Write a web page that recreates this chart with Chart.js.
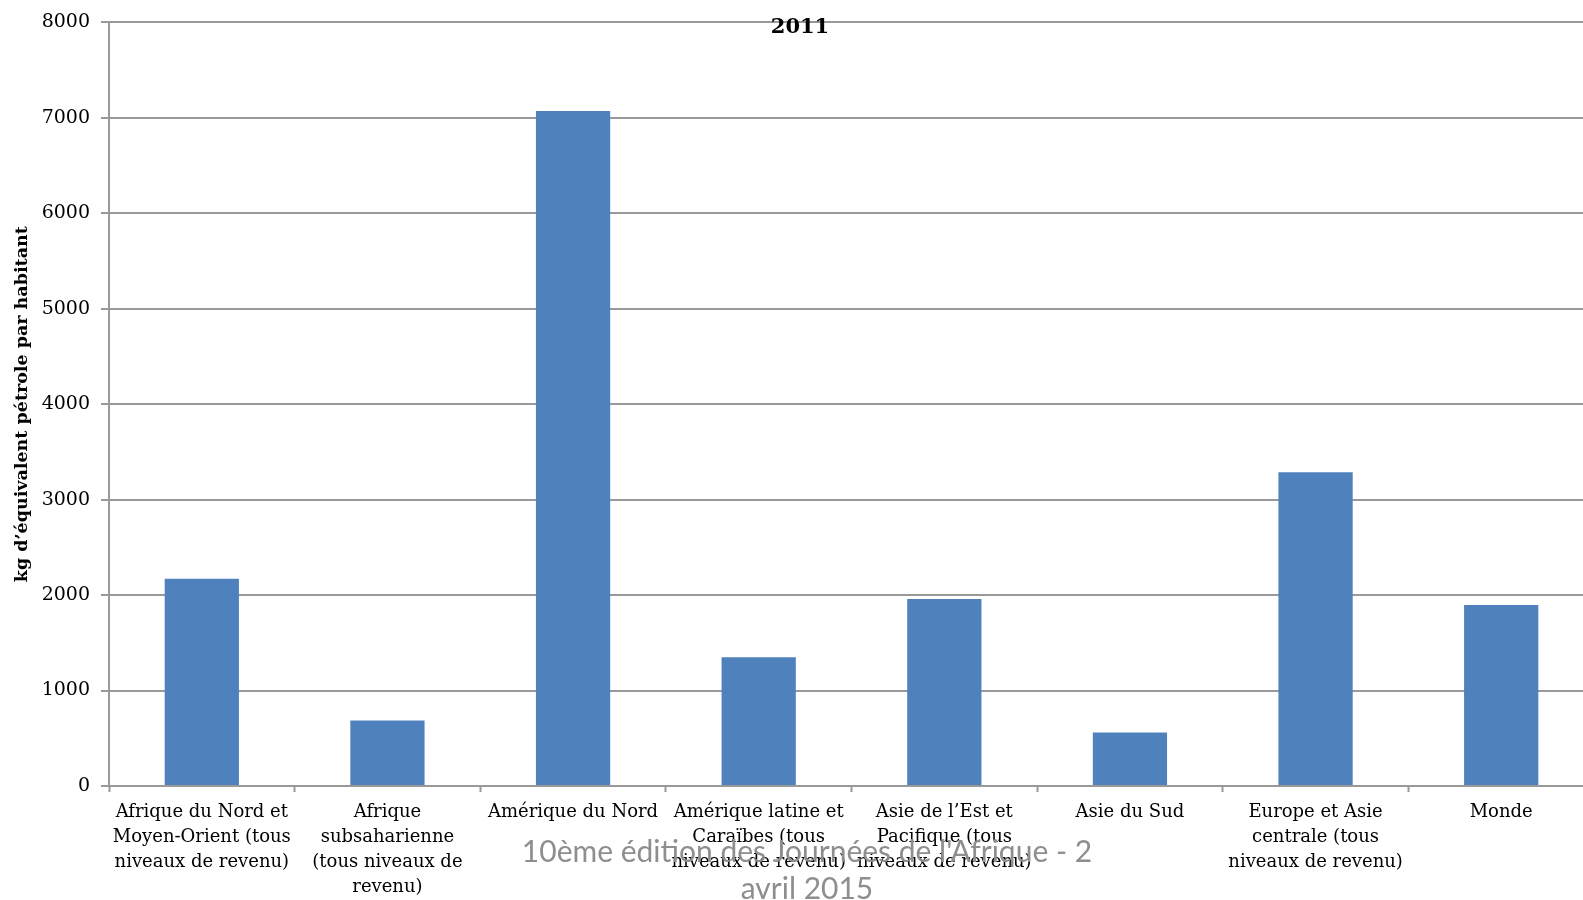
<!DOCTYPE html>
<html lang="fr">
<head>
<meta charset="utf-8">
<title>Consommation d'énergie 2011</title>
<script src="https://cdn.jsdelivr.net/npm/chart.js@4.4.1/dist/chart.umd.min.js"></script>
<style>
  html, body { margin: 0; padding: 0; background: #fff; overflow: hidden; }
  #wrap { position: relative; width: 1600px; height: 900px; }
  #footer {
    position: absolute;
    left: 457px;
    width: 700px;
    top: 832px;
    text-align: center;
    font-family: Lato, "Open Sans", sans-serif;
    font-size: 30px;
    line-height: 37px;
    color: #8e8e8e;
  }
</style>
</head>
<body>
<div id="wrap">
  <canvas id="energy-chart" width="1600" height="900"></canvas>
  <div id="footer">10ème édition des Journées de l'Afrique - 2<br>avril 2015</div>
</div>
<script>
// Regions (World Bank groupings), multi-line labels as they are wrapped on the axis
const regions = [
  ['Afrique du Nord et', 'Moyen-Orient (tous', 'niveaux de revenu)'],
  ['Afrique', 'subsaharienne', '(tous niveaux de', 'revenu)'],
  'Amérique du Nord',
  ['Amérique latine et', 'Caraïbes (tous', 'niveaux de revenu)'],
  ['Asie de l’Est et', 'Pacifique (tous', 'niveaux de revenu)'],
  'Asie du Sud',
  ['Europe et Asie', 'centrale (tous', 'niveaux de revenu)'],
  'Monde'
];

// kg of oil equivalent per capita, 2011
const energyUse = [2170, 686, 7071, 1348, 1958, 561, 3288, 1895];

const yearLabel = '2011';
const yAxisTitle = 'kg d’équivalent pétrole par habitant';
const yMin = 0;
const yMax = 8000;
const yStep = 1000;

const serif = '"DejaVu Serif", "Liberation Serif", serif';

// Chart title sits inside the plot area, so draw it by hand
const yearTitle = {
  id: 'yearTitle',
  afterDraw(chart) {
    const ctx = chart.ctx;
    ctx.save();
    ctx.font = 'bold 21px ' + serif;
    ctx.fillStyle = '#000';
    ctx.textAlign = 'center';
    ctx.textBaseline = 'middle';
    ctx.fillText(yearLabel, 800, 28);
    ctx.restore();
  }
};

new Chart(document.getElementById('energy-chart'), {
  type: 'bar',
  data: {
    labels: regions,
    datasets: [{
      label: yearLabel,
      data: energyUse,
      backgroundColor: '#4f81bd',
      categoryPercentage: 1,
      barPercentage: 0.4
    }]
  },
  options: {
    responsive: false,
    animation: false,
    layout: {
      padding: { top: 16, right: 6, left: 0, bottom: 0 }
    },
    plugins: {
      legend: { display: false },
      tooltip: { enabled: false }
    },
    scales: {
      x: {
        grid: {
          drawOnChartArea: false,
          drawTicks: true,
          tickLength: 6,
          tickWidth: 2,
          tickColor: '#999'
        },
        border: { color: '#999', width: 2 },
        ticks: {
          autoSkip: false,
          maxRotation: 0,
          minRotation: 0,
          padding: 8,
          color: '#000',
          font: { family: serif, size: 18, lineHeight: '25px' }
        },
        afterFit(scale) {
          scale.height = 114;
        }
      },
      y: {
        min: yMin,
        max: yMax,
        grid: {
          color: '#999',
          lineWidth: 2,
          tickLength: 8
        },
        border: { color: '#999', width: 2 },
        ticks: {
          stepSize: yStep,
          padding: 11,
          color: '#000',
          font: { family: serif, size: 19 },
          callback: function (value) {
            return String(value);
          }
        },
        title: {
          display: true,
          text: yAxisTitle,
          color: '#000',
          padding: { top: 12, bottom: 0 },
          font: { family: serif, size: 17.5, weight: 'bold' }
        },
        afterFit(scale) {
          scale.width = 109;
        }
      }
    }
  },
  plugins: [yearTitle]
});
</script>
</body>
</html>
